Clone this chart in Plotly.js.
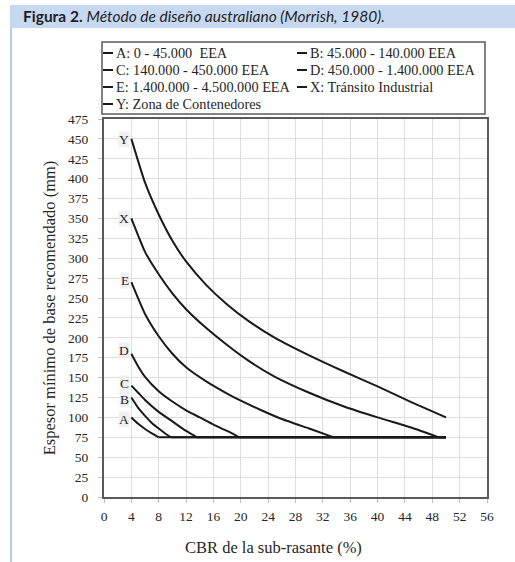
<!DOCTYPE html>
<html>
<head>
<meta charset="utf-8">
<script src="https://cdn.plot.ly/plotly-3.0.1.min.js"></script>
<style>html,body{margin:0;padding:0;background:#fff;}#chart{width:515px;height:562px;}</style>
</head>
<body>
<div id="chart"></div>
<script>
// Curve data (CBR %, espesor mm)
const names = [
  "A: 0 - 45.000  EEA",
  "B: 45.000 - 140.000 EEA",
  "C: 140.000 - 450.000 EEA",
  "D: 450.000 - 1.400.000 EEA",
  "E: 1.400.000 - 4.500.000 EEA",
  "X: Tránsito Industrial",
  "Y: Zona de Contenedores"
];
const curveLabels = ["A","B","C","D","E","X","Y"];

const cbrA = [4, 5, 6, 7, 8];
const espA = [100, 92, 85.5, 80, 75];
const cbrB = [4, 5, 6, 7, 8, 9, 9.8];
const espB = [125, 112, 102, 93, 86, 79.5, 75];
const cbrC = [4, 5, 6, 8, 10, 12, 13.6];
const espC = [140, 131, 122, 107, 95, 83, 75];
const cbrD = [4, 5, 6, 8, 10, 12, 14, 16, 18, 19.8];
const espD = [180, 164, 151, 133, 120, 109, 100, 91, 83, 75];
const cbrE = [4, 6, 8, 10, 12, 15, 18, 20, 23, 26, 30, 33.6];
const espE = [270, 230, 202, 180, 163, 145, 130, 121, 109, 98, 86, 75];
const cbrX = [4, 6, 8, 10, 12, 15, 18, 21, 25, 30, 35, 40, 45, 49];
const espX = [350, 308, 280, 256, 236, 212, 191, 172, 151, 131, 114, 100, 87, 75];
const cbrY = [4, 6, 8, 10, 12, 15, 18, 21, 25, 30, 35, 40, 45, 50];
const espY = [450, 395, 355, 322, 296, 266, 242, 222, 200, 178, 158, 139, 119, 100];

// minimum base thickness plateau
const plateauEsp = 75;
const plateauEndCBR = 50;

const xTicks = [0,4,8,12,16,20,24,28,32,36,40,44,48,52,56];
const yTicks = [0,25,50,75,100,125,150,175,200,225,250,275,300,325,350,375,400,425,450,475];

const series = [[cbrA,espA],[cbrB,espB],[cbrC,espC],[cbrD,espD],[cbrE,espE],[cbrX,espX],[cbrY,espY]];

const serif = "Liberation Serif, Times New Roman, serif";
const lineColor = "#1a1a1a";
const textColor = "#262626";
const traces = [];
series.forEach((s, i) => {
  traces.push({
    x: s[0], y: s[1], name: names[i], type: "scatter", mode: "lines",
    legendgroup: curveLabels[i], showlegend: false,
    line: {color: lineColor, width: 2, shape: "spline", smoothing: 0.5}
  });
  const lastX = s[0][s[0].length - 1], lastY = s[1][s[1].length - 1];
  if (lastY === plateauEsp && lastX < plateauEndCBR) {
    traces.push({
      x: [lastX, plateauEndCBR], y: [plateauEsp, plateauEsp], name: names[i],
      type: "scatter", mode: "lines", legendgroup: curveLabels[i], showlegend: false,
      line: {color: lineColor, width: 2}
    });
  }
});

const W = 515, H = 562, L = 104, R = 487, T = 119, B = 497;
const px = p => (p - L) / (R - L);
const py = p => (B - p) / (B - T);

const labelShift = [-2, -2, 2, 3, 2, 0, -1];
const annotations = series.map((s, i) => ({
  x: s[0][0], y: s[1][0], xref: "x", yref: "y", text: curveLabels[i],
  showarrow: false, xanchor: "right", yanchor: "middle", xshift: -1, yshift: labelShift[i],
  bgcolor: "#f0f0f0", borderpad: 0,
  font: {family: serif, size: 13.5, color: textColor}
}));

// manual legend (short line keys as in the original figure)
const legRows = [53, 70, 87, 104];
const legCols = [103, 297];
const shapes = [
  {type: "rect", xref: "paper", yref: "paper", layer: "below",
   x0: px(10), x1: px(520), y0: py(28), y1: py(5),
   fillcolor: "#c6d9f1", line: {width: 0}},
  {type: "line", xref: "paper", yref: "paper", layer: "below",
   x0: px(11), x1: px(11), y0: py(28), y1: py(570),
   line: {color: "#b8cce4", width: 2}},
  {type: "rect", xref: "paper", yref: "paper", layer: "above",
   x0: px(102), x1: px(485), y0: py(114), y1: py(42),
   fillcolor: "rgba(0,0,0,0)", line: {color: "#5a5a5a", width: 1.5}}
];
names.forEach((n, i) => {
  const r = legRows[Math.floor(i / 2)], c = legCols[i % 2];
  shapes.push({type: "line", xref: "paper", yref: "paper",
    x0: px(c), x1: px(c + 10), y0: py(r), y1: py(r),
    line: {color: lineColor, width: 2}});
  annotations.push({x: px(c + 12), y: py(r), xref: "paper", yref: "paper",
    text: n, showarrow: false, xanchor: "left", yanchor: "middle", borderpad: 0,
    font: {family: serif, size: 14.3, color: textColor}});
});

// x-axis title (sits slightly left of centre in the original)
annotations.push({x: px(273), y: py(547), xref: "paper", yref: "paper",
  text: "CBR de la sub-rasante (%)", showarrow: false,
  xanchor: "center", yanchor: "middle",
  font: {family: serif, size: 16.5, color: textColor}});

const layout = {
  width: W, height: H,
  margin: {l: L, r: W - R, t: T, b: H - B, pad: 0},
  paper_bgcolor: "#ffffff", plot_bgcolor: "#ffffff",
  title: {
    text: "<b>Figura 2.</b> <i>Método de diseño australiano (Morrish, 1980).</i>",
    x: 23 / W, xanchor: "left", xref: "container",
    y: 1 - 16.5 / H, yanchor: "middle", yref: "container",
    font: {family: "Lato, Open Sans, sans-serif", size: 15.5, color: "#1f1f1f"}
  },
  showlegend: false,
  xaxis: {
    range: [0, 56], tickvals: xTicks, ticktext: xTicks.map(String),
    showgrid: true, gridcolor: "#dedede", gridwidth: 1,
    showline: true, mirror: true, linecolor: "#5a5a5a", linewidth: 2,
    ticks: "outside", ticklen: 4, tickcolor: "#bfbfbf", tickwidth: 1,
    ticklabelstandoff: 2,
    zeroline: false,
    tickfont: {family: serif, size: 13.5, color: textColor},
    automargin: false, fixedrange: true
  },
  yaxis: {
    range: [0, 475], tickvals: yTicks, ticktext: yTicks.map(String),
    showgrid: true, gridcolor: "#dedede", gridwidth: 1,
    showline: true, mirror: true, linecolor: "#5a5a5a", linewidth: 2,
    ticks: "outside", ticklen: 4, tickcolor: "#bfbfbf", tickwidth: 1,
    ticklabelstandoff: 7,
    zeroline: false,
    tickfont: {family: serif, size: 13.5, color: textColor},
    title: {text: "Espesor mínimo de base recomendado (mm)", standoff: 8,
      font: {family: serif, size: 16.5, color: textColor}},
    automargin: false, fixedrange: true
  },
  annotations: annotations,
  shapes: shapes
};

Plotly.newPlot("chart", traces, layout, {displayModeBar: false, staticPlot: true});
</script>
</body>
</html>
